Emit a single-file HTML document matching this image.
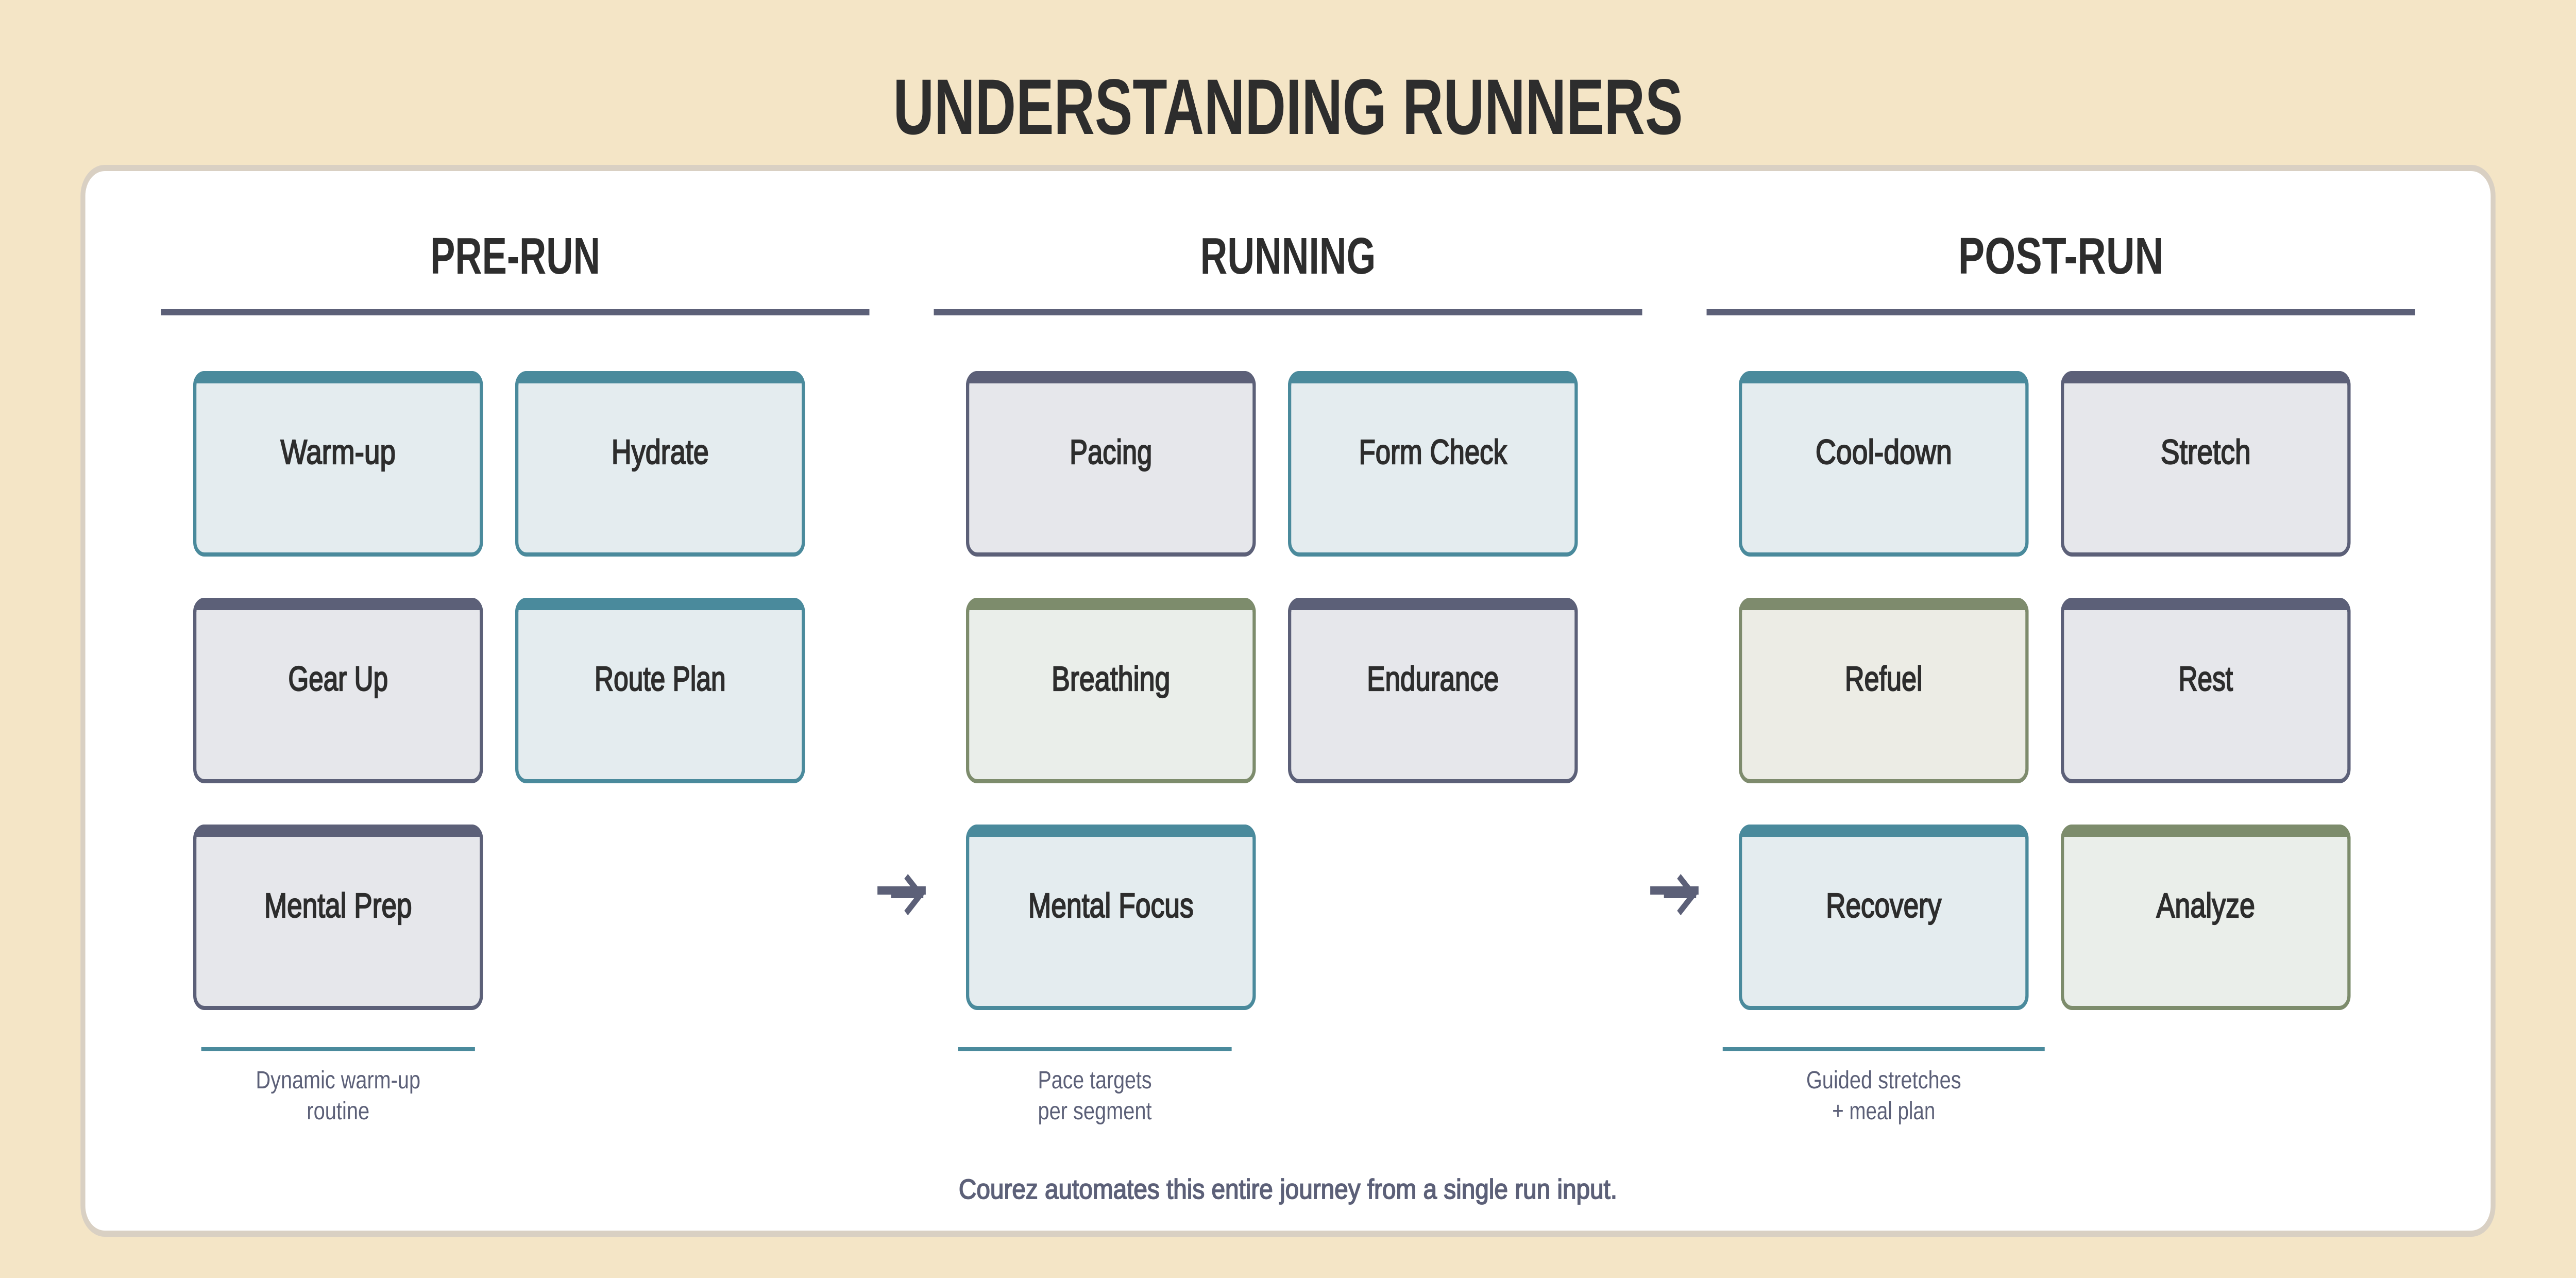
<!DOCTYPE html>
<html lang="en">
<head>
<meta charset="utf-8">
<title>Understanding Runners</title>
<style>
html,body{margin:0;padding:0;width:100%;height:100%;background:#F4E5C6}
svg{display:block;width:100%;height:100%}
text{font-family:"Liberation Sans",Arial,sans-serif;text-anchor:middle}
.h{font-weight:700;fill:#2D2D2D}
.c{font-weight:400;font-size:67px;fill:#2D2D2D;stroke:#2D2D2D;stroke-width:2.2px}
.s{font-size:48px;fill:#5C6078}
.f{font-weight:400;font-size:54px;fill:#5C6078;stroke:#5C6078;stroke-width:1.8px}
</style>
</head>
<body>
<svg xmlns="http://www.w3.org/2000/svg" viewBox="0 0 6400 2480" preserveAspectRatio="none">
<defs>
<path id="bar" d="M0 28A28 28 0 0 1 28 0H692A28 28 0 0 1 720 28H712V24H8V28Z"/>
<rect id="box" x="4" y="4" width="712" height="352" rx="24" ry="24" stroke-width="8"/>
</defs>
<rect width="6400" height="2480" fill="#F4E5C6"/>
<rect x="206" y="326" width="5988" height="2068" rx="54" ry="54" fill="#FFFFFF" stroke="#D9D0C3" stroke-width="12"/>

<text class="h" x="3200" y="260" font-size="153" textLength="1962" lengthAdjust="spacingAndGlyphs">UNDERSTANDING RUNNERS</text>

<text class="h" x="1280" y="531" font-size="100" textLength="422" lengthAdjust="spacingAndGlyphs">PRE-RUN</text>
<text class="h" x="3200" y="531" font-size="100" textLength="436" lengthAdjust="spacingAndGlyphs">RUNNING</text>
<text class="h" x="5120" y="531" font-size="100" textLength="510" lengthAdjust="spacingAndGlyphs">POST-RUN</text>

<rect x="400" y="600" width="1760" height="12" fill="#5C6078"/>
<rect x="2320" y="600" width="1760" height="12" fill="#5C6078"/>
<rect x="4240" y="600" width="1760" height="12" fill="#5C6078"/>

<!-- PRE-RUN -->
<g transform="translate(480 720)"><use href="#box" fill="#E4ECEF" stroke="#4A8A9C"/><use href="#bar" fill="#4A8A9C"/><text class="c" x="360" y="180" textLength="286" lengthAdjust="spacingAndGlyphs">Warm-up</text></g>
<g transform="translate(1280 720)"><use href="#box" fill="#E4ECEF" stroke="#4A8A9C"/><use href="#bar" fill="#4A8A9C"/><text class="c" x="360" y="180" textLength="242" lengthAdjust="spacingAndGlyphs">Hydrate</text></g>
<g transform="translate(480 1160)"><use href="#box" fill="#E6E7EB" stroke="#5C6078"/><use href="#bar" fill="#5C6078"/><text class="c" x="360" y="180" textLength="248" lengthAdjust="spacingAndGlyphs">Gear Up</text></g>
<g transform="translate(1280 1160)"><use href="#box" fill="#E4ECEF" stroke="#4A8A9C"/><use href="#bar" fill="#4A8A9C"/><text class="c" x="360" y="180" textLength="326" lengthAdjust="spacingAndGlyphs">Route Plan</text></g>
<g transform="translate(480 1600)"><use href="#box" fill="#E6E7EB" stroke="#5C6078"/><use href="#bar" fill="#5C6078"/><text class="c" x="360" y="180" textLength="367" lengthAdjust="spacingAndGlyphs">Mental Prep</text></g>

<!-- RUNNING -->
<g transform="translate(2400 720)"><use href="#box" fill="#E6E7EB" stroke="#5C6078"/><use href="#bar" fill="#5C6078"/><text class="c" x="360" y="180" textLength="205" lengthAdjust="spacingAndGlyphs">Pacing</text></g>
<g transform="translate(3200 720)"><use href="#box" fill="#E4ECEF" stroke="#4A8A9C"/><use href="#bar" fill="#4A8A9C"/><text class="c" x="360" y="180" textLength="368" lengthAdjust="spacingAndGlyphs">Form Check</text></g>
<g transform="translate(2400 1160)"><use href="#box" fill="#EAEEEA" stroke="#7D8C6C"/><use href="#bar" fill="#7D8C6C"/><text class="c" x="360" y="180" textLength="295" lengthAdjust="spacingAndGlyphs">Breathing</text></g>
<g transform="translate(3200 1160)"><use href="#box" fill="#E6E7EB" stroke="#5C6078"/><use href="#bar" fill="#5C6078"/><text class="c" x="360" y="180" textLength="328" lengthAdjust="spacingAndGlyphs">Endurance</text></g>
<g transform="translate(2400 1600)"><use href="#box" fill="#E4ECEF" stroke="#4A8A9C"/><use href="#bar" fill="#4A8A9C"/><text class="c" x="360" y="180" textLength="411" lengthAdjust="spacingAndGlyphs">Mental Focus</text></g>

<!-- POST-RUN -->
<g transform="translate(4320 720)"><use href="#box" fill="#E4ECEF" stroke="#4A8A9C"/><use href="#bar" fill="#4A8A9C"/><text class="c" x="360" y="180" textLength="339" lengthAdjust="spacingAndGlyphs">Cool-down</text></g>
<g transform="translate(5120 720)"><use href="#box" fill="#E6E7EB" stroke="#5C6078"/><use href="#bar" fill="#5C6078"/><text class="c" x="360" y="180" textLength="224" lengthAdjust="spacingAndGlyphs">Stretch</text></g>
<g transform="translate(4320 1160)"><use href="#box" fill="#ECECE5" stroke="#7E8B6D"/><use href="#bar" fill="#7E8B6D"/><text class="c" x="360" y="180" textLength="193" lengthAdjust="spacingAndGlyphs">Refuel</text></g>
<g transform="translate(5120 1160)"><use href="#box" fill="#E6E7EB" stroke="#5C6078"/><use href="#bar" fill="#5C6078"/><text class="c" x="360" y="180" textLength="135" lengthAdjust="spacingAndGlyphs">Rest</text></g>
<g transform="translate(4320 1600)"><use href="#box" fill="#E4ECEF" stroke="#4A8A9C"/><use href="#bar" fill="#4A8A9C"/><text class="c" x="360" y="180" textLength="287" lengthAdjust="spacingAndGlyphs">Recovery</text></g>
<g transform="translate(5120 1600)"><use href="#box" fill="#EAEEEA" stroke="#7D8C6C"/><use href="#bar" fill="#7D8C6C"/><text class="c" x="360" y="180" textLength="245" lengthAdjust="spacingAndGlyphs">Analyze</text></g>

<!-- Arrows -->
<g fill="#5C6078">
<rect x="2180" y="1720" width="120" height="16"/>
<rect x="2214" y="1724" width="80" height="19"/>
<polyline points="2251.2,1700.5 2287,1736 2251.2,1771.7" fill="none" stroke="#5C6078" stroke-width="12.7"/>
<rect x="4100" y="1720" width="120" height="16"/>
<rect x="4134" y="1724" width="80" height="19"/>
<polyline points="4171.2,1700.5 4207,1736 4171.2,1771.7" fill="none" stroke="#5C6078" stroke-width="12.7"/>
</g>

<!-- Caption rules -->
<rect x="500" y="2032" width="680" height="8" fill="#4A8A9C"/>
<rect x="2380" y="2032" width="680" height="8" fill="#4A8A9C"/>
<rect x="4280" y="2032" width="800" height="8" fill="#4A8A9C"/>

<!-- Captions -->
<text class="s" x="840" y="2112" textLength="409" lengthAdjust="spacingAndGlyphs">Dynamic warm-up</text>
<text class="s" x="840" y="2172" textLength="156" lengthAdjust="spacingAndGlyphs">routine</text>
<text class="s" x="2720" y="2112" textLength="283" lengthAdjust="spacingAndGlyphs">Pace targets</text>
<text class="s" x="2720" y="2172" textLength="283" lengthAdjust="spacingAndGlyphs">per segment</text>
<text class="s" x="4680" y="2112" textLength="385" lengthAdjust="spacingAndGlyphs">Guided stretches</text>
<text class="s" x="4680" y="2172" textLength="256" lengthAdjust="spacingAndGlyphs">+ meal plan</text>

<text class="f" x="3200" y="2326" textLength="1636" lengthAdjust="spacingAndGlyphs">Courez automates this entire journey from a single run input.</text>
</svg>
</body>
</html>
